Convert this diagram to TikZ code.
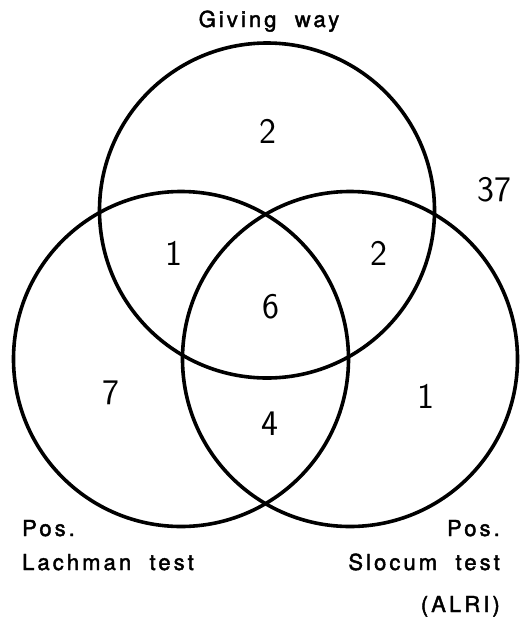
\documentclass[tikz,border=0pt]{standalone}
\usepackage{fontspec}
\newfontfamily\lblfont[LetterSpace=14,WordSpace=2,FakeBold=2]{TeX Gyre Heros}
\begin{document}
\begin{tikzpicture}[x=1pt,y=-1pt,
  setcirc/.style={circle,draw,line width=3.6pt,inner sep=0pt,minimum size=335pt},
  lbl/.style={inner sep=0pt,anchor=base,font=\lblfont\fontsize{22}{22}\selectfont},
  num/.style={inner sep=0pt,font=\sffamily\fontsize{36}{36}\selectfont}]
\useasboundingbox (0,0) rectangle (530,619);
\node[setcirc] (gw) at (267,210.5) {};
\node[setcirc] (lach) at (181,359) {};
\node[setcirc] (slo) at (350,359) {};
\node[lbl] (tgw) at (269,27) {Giving way};
\node[lbl,anchor=base west] (tpl) at (22,536) {Pos.};
\node[lbl,anchor=base west] (tla) at (22,570) {Lachman test};
\node[lbl,anchor=base east] (tpr) at (500,536) {Pos.};
\node[lbl,anchor=base east] (tsl) at (500,570) {Slocum test};
\node[lbl,anchor=base east] (tal) at (500,612) {(ALRI)};
\node[num] (n2a) at (268,131) {2};
\node[num] (n37) at (494,190) {37};
\node[num] (n1a) at (174,253) {1};
\node[num] (n2b) at (379,253) {2};
\node[num] (n6) at (271,307) {6};
\node[num] (n7) at (111,393) {7};
\node[num] (n1b) at (426,396) {1};
\node[num] (n4) at (270,424) {4};
\end{tikzpicture}
\end{document}
